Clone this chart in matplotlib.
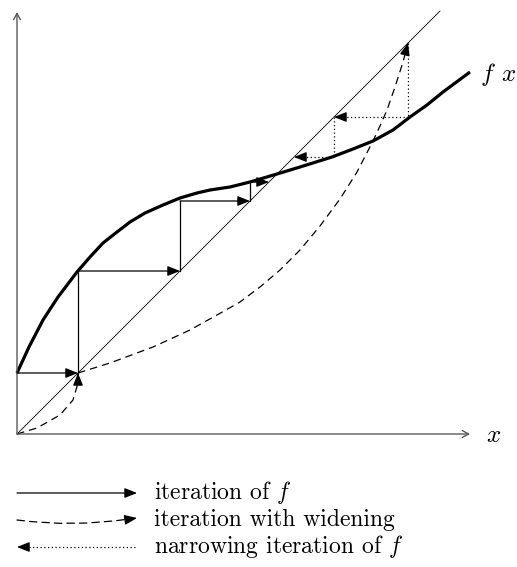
import matplotlib
matplotlib.use("Agg")
import matplotlib.pyplot as plt
import numpy as np

plt.rcParams['mathtext.fontset'] = 'cm'
plt.rcParams['font.family'] = ['cmr10', 'DejaVu Sans']
plt.rcParams['axes.formatter.use_mathtext'] = True

# ---- data ----
curve_x = [0, 12, 26, 41, 60, 73, 86, 100, 113, 128, 146, 163, 180, 193, 213, 233,
           260, 283, 315, 336, 356, 376, 393, 410, 426, 453]
curve_y = [61, 87, 114, 137, 162, 177, 191, 202, 212, 221, 229, 236, 241, 244, 247, 252,
           260, 267, 277, 285, 293, 304, 317, 329, 342, 362]

iterates = [0, 61, 163, 233, 252]          # x_{k+1} = f(x_k)
narrow_iterates = [391, 317, 277]          # narrowing from widened value

widen1_x = [0, 20, 43, 56, 61, 61]
widen1_y = [0, 6, 19, 34, 51, 61]
widen2_x = [61, 93, 136, 173, 200, 223, 243, 263, 283, 303, 323, 340, 356, 363, 370, 378, 386, 391]
widen2_y = [61, 71, 87, 104, 119, 132, 147, 164, 184, 208, 235, 262, 293, 308, 324, 347, 372, 391]

diag_end = 423
x_axis_end = 453
y_axis_end = 422

legend_labels = ["iteration of $f$", "iteration with widening", "narrowing iteration of $f$"]

# ---- figure ----
fig = plt.figure(figsize=(5.17, 5.67), dpi=100)
ax = fig.add_axes([0, 0, 1, 1])
ax.set_xlim(-17, 500)
ax.set_ylim(-133, 434)
ax.set_aspect('equal')
ax.axis('off')

HEAD = dict(arrowstyle='-|>,head_length=0.75,head_width=0.3', color='black',
            lw=0.9, shrinkA=0, shrinkB=0)

def arrow(p0, p1, ls='-', head=True):
    if head:
        ax.annotate('', xy=p1, xytext=p0,
                    arrowprops=dict(HEAD, linestyle=ls))
    else:
        ax.plot([p0[0], p1[0]], [p0[1], p1[1]], color='black', lw=0.9, linestyle=ls)

def head_only(tip, direction):
    d = np.array(direction, float)
    d = d / np.hypot(*d)
    start = np.array(tip) - d * 8
    ax.annotate('', xy=tip, xytext=tuple(start), arrowprops=dict(HEAD))

# axes
axprops = dict(arrowstyle='->,head_length=0.45,head_width=0.25', color='0.35', lw=1.0,
               shrinkA=0, shrinkB=0)
ax.annotate('', xy=(x_axis_end, 0), xytext=(0, 0), arrowprops=axprops)
ax.annotate('', xy=(0, y_axis_end), xytext=(0, 0), arrowprops=axprops)
ax.text(477, -2, '$x$', fontsize=18, ha='center', va='center')

# diagonal
ax.plot([0, diag_end], [0, diag_end], color='black', lw=0.6)

# function curve
ax.plot(curve_x, curve_y, color='black', lw=2.3, solid_capstyle='butt', solid_joinstyle='round')
ax.text(482, 360, '$f\\;\\, x$', fontsize=18, ha='center', va='center')

# iteration of f
for k in range(len(iterates) - 1):
    a, b = iterates[k], iterates[k + 1]
    arrow((a, b), (b, b), '-')
    if k + 2 < len(iterates):
        c = iterates[k + 2]
        arrow((b, b), (b, c), '-', head=False)

# widening (dashed)
dash = (0, (6, 4))
ax.plot(widen1_x, widen1_y, color='black', lw=0.9, linestyle=dash)
head_only((widen1_x[-1], widen1_y[-1]), (0, 1))
ax.plot(widen2_x, widen2_y, color='black', lw=0.9, linestyle=dash)
head_only((widen2_x[-1], widen2_y[-1]), (widen2_x[-1] - widen2_x[-2], widen2_y[-1] - widen2_y[-2]))

# narrowing (dotted)
dot = (0, (1, 2))
for k in range(len(narrow_iterates) - 1):
    a, b = narrow_iterates[k], narrow_iterates[k + 1]
    ax.plot([a, a], [a, b], color='black', lw=0.9, linestyle=dot)
    ax.plot([a, b], [b, b], color='black', lw=0.9, linestyle=dot)
    head_only((b, b), (-1, 0))

# legend
rows_y = [-59, -86, -113]
lx0, lx1, tx = 0, 120, 137
ax.annotate('', xy=(lx1, rows_y[0]), xytext=(lx0, rows_y[0]), arrowprops=dict(HEAD))
ax.annotate('', xy=(lx1 - 8, rows_y[1] + 1), xytext=(lx0, rows_y[1]),
            arrowprops=dict(arrowstyle='-', color='black', lw=0.9, linestyle=dash,
                            shrinkA=0, shrinkB=0, connectionstyle='arc3,rad=0.07'))
head_only((lx1, rows_y[1] + 2), (1, 0.15))
ax.plot([lx0 + 8, lx1], [rows_y[2], rows_y[2]], color='black', lw=0.9, linestyle=dot)
head_only((lx0, rows_y[2]), (-1, 0))
for y, lab in zip(rows_y, legend_labels):
    ax.text(tx, y, lab, fontsize=17, ha='left', va='center')

fig.savefig('out.png', dpi=100)
